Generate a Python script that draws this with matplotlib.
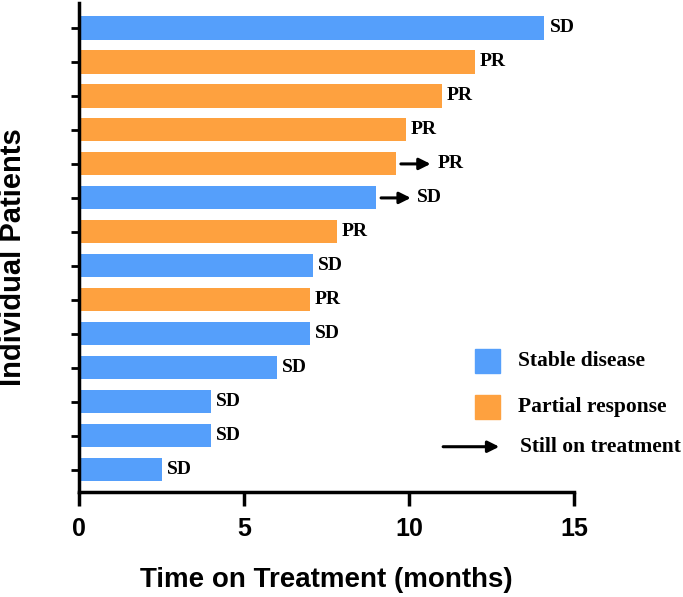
# Swimmer plot: time on treatment per patient

import numpy as np
import matplotlib.pyplot as plt

# data (top patient first)
months = [14.1, 12.0, 11.0, 9.9, 9.6, 9.0, 7.8, 7.1, 7.0, 7.0, 6.0, 4.0, 4.0, 2.5]
response = ["SD", "PR", "PR", "PR", "PR", "SD", "PR", "SD", "PR", "SD", "SD", "SD", "SD", "SD"]
ongoing = [False, False, False, False, True, True, False, False, False, False, False, False, False, False]
xticks = [0, 5, 10, 15]

blue = "#559ffb"
orange = "#fea13f"
colors = {"SD": blue, "PR": orange}

serif = dict(family="Liberation Serif", fontweight="bold")
arrow_props = dict(arrowstyle="-|>", color="black", lw=2.2,
                   mutation_scale=17, shrinkA=0, shrinkB=0)

fig = plt.figure(figsize=(6.83, 5.97), dpi=100)
ax = fig.add_axes([0.1157, 0.176, 0.725, 0.819])

n = len(months)
ypos = np.arange(n)[::-1]
ax.barh(ypos, months, height=0.68, color=[colors[r] for r in response])

for y, m, r, on in zip(ypos, months, response, ongoing):
    if on:
        ax.annotate("", xy=(m + 1.05, y), xytext=(m + 0.15, y), arrowprops=arrow_props)
        ax.text(m + 1.25, y, r, va="center", ha="left", fontsize=14, **serif)
    else:
        ax.text(m + 0.15, y, r, va="center", ha="left", fontsize=14, **serif)

# legend
leg_y = [3.2, 1.85]
for yy, c, lab in zip(leg_y, [blue, orange], ["Stable disease", "Partial response"]):
    ax.add_patch(plt.Rectangle((12.0, yy - 0.355), 0.76, 0.71, color=c))
    ax.text(13.3, yy, lab, va="center", ha="left", fontsize=15.5, **serif)
ax.annotate("", xy=(12.73, 0.68), xytext=(11.03, 0.68), arrowprops=arrow_props)
ax.text(13.36, 0.68, "Still on treatment", va="center", ha="left", fontsize=15.5, **serif)

ax.set_xlim(0, 15)
ax.set_ylim(-0.65, n - 1 + 0.735)
ax.set_xticks(xticks)
ax.set_yticks(ypos)
ax.set_yticklabels([])
ax.spines["top"].set_visible(False)
ax.spines["right"].set_visible(False)
ax.spines["left"].set_linewidth(2.5)
ax.spines["bottom"].set_linewidth(2.5)
ax.tick_params(axis="x", length=10, width=2.5, labelsize=18, pad=8)
ax.tick_params(axis="y", length=6, width=2)
for t in ax.get_xticklabels():
    t.set_fontweight("bold")
    t.set_family("Liberation Sans")

ax.set_xlabel("Time on Treatment (months)", fontsize=20, fontweight="bold",
              family="Liberation Sans", labelpad=19)
ax.set_ylabel("Individual Patients", fontsize=21, fontweight="bold",
              family="Liberation Sans")
ax.yaxis.set_label_coords(-0.105, 0.48)

plt.savefig("out.png", dpi=100)
